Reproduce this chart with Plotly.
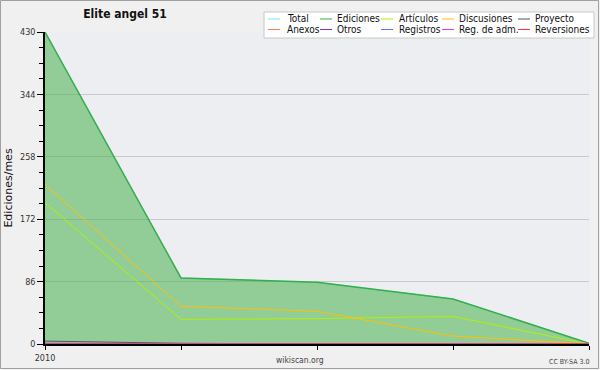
import plotly.graph_objects as go

months = [0, 1, 2, 3, 4]
x_ticklabels = ["2010", "", "", "", ""]
y_ticks = [0, 86, 172, 258, 344, 430]

total = [430, 91, 85, 62, 1]
ediciones = [430, 91, 85, 62, 1]
articulos = [195, 34, 35, 38, 0]
discusiones = [220, 52, 45, 11, 0]
proyecto = [4, 1, 0, 0, 0]
anexos = [0, 0, 0, 0, 0]
otros = [0, 0, 0, 0, 0]
registros = [1, 0, 0, 0, 0]
reg_adm = [0, 0, 0, 0, 0]
reversiones = [0, 0, 0, 0, 0]

series = [
    ("Total", total, "#88e4e4"),
    ("Ediciones", ediciones, "#33b04a"),
    ("Artículos", articulos, "#b4f000"),
    ("Discusiones", discusiones, "#ffc000"),
    ("Proyecto", proyecto, "#555555"),
    ("Anexos", anexos, "#ff8040"),
    ("Otros", otros, "#8030e0"),
    ("Registros", registros, "#6070ff"),
    ("Reg. de adm.", reg_adm, "#e040e0"),
    ("Reversiones", reversiones, "#ff3030"),
]

W, H = 600, 370
L, R, T, B = 45, 11, 32, 26
pw = W - L - R
ph = H - T - B
FONT = "DejaVu Sans Condensed, DejaVu Sans"


def px(x):
    return (x - L) / pw


def py(y):
    return (T + ph - y) / ph


fig = go.Figure()
for name, vals, col in series:
    kw = {}
    if name == "Ediciones":
        kw = dict(fill="tozeroy", fillcolor="rgba(55,172,64,0.5)")
    fig.add_trace(go.Scatter(
        x=months, y=vals, name=name, mode="lines", showlegend=False,
        line=dict(color=col, width=1.5 if name == "Ediciones" else 1),
        **kw))

minor = [t + k * 21.5 for t in y_ticks[:-1] for k in (1, 2, 3)]

fig.update_layout(
    width=W, height=H,
    margin=dict(l=L, r=R, t=T, b=B, autoexpand=False),
    paper_bgcolor="#f0f0f0",
    plot_bgcolor="#eceef1",
    font=dict(family=FONT, size=9, color="#333"),
    title=dict(text="<b>Elite angel 51</b>", x=125 / W, xanchor="center",
               y=1 - 14 / H, yanchor="middle",
               font=dict(family=FONT, size=12, color="#111")),
    showlegend=False,
    xaxis=dict(range=[0, 4], tickvals=months, ticktext=x_ticklabels,
               automargin=False,
               showgrid=False, zeroline=False, showline=True, linecolor="#000",
               linewidth=1.5, ticks="outside", ticklen=4, tickcolor="#000",
               tickfont=dict(family=FONT, size=9, color="#333")),
    yaxis=dict(range=[0, 430], tickvals=y_ticks, automargin=True,
               showgrid=True, gridcolor="#cacaca", zeroline=False,
               showline=True, linecolor="#000", linewidth=1.5,
               ticks="outside", ticklen=6, tickcolor="#000",
               tickfont=dict(family=FONT, size=9, color="#333"),
               minor=dict(tickvals=minor, ticks="outside",
                          ticklen=4, tickcolor="#000", showgrid=False),
               title=dict(text="Ediciones/mes",
                          font=dict(family="DejaVu Sans", size=11, color="#111"),
                          standoff=5)),
)

# legend box (drawn manually to match the compact two-row layout)
fig.add_shape(type="rect", xref="paper", yref="paper",
              x0=px(264), x1=px(594), y0=py(38), y1=py(12),
              fillcolor="#ffffff", line=dict(color="#c8c8c8", width=1),
              layer="above")
col_line_x = [268, 320, 381, 442, 518]
col_text_x = [285, 335, 397, 457, 533]
row_y = [19, 29.5]
for i, (name, vals, col) in enumerate(series):
    c, r = i % 5, i // 5
    fig.add_shape(type="line", xref="paper", yref="paper",
                  x0=px(col_line_x[c]), x1=px(col_line_x[c] + 12),
                  y0=py(row_y[r]), y1=py(row_y[r]),
                  line=dict(color=col, width=1), layer="above")
    fig.add_annotation(text=name, xref="paper", yref="paper",
                       x=px(col_text_x[c]), y=py(row_y[r]),
                       xanchor="left", yanchor="middle", showarrow=False,
                       font=dict(family=FONT, size=10, color="#111"))

fig.add_annotation(text="wikiscan.org", xref="paper", yref="paper",
                   x=px(300), y=py(360),
                   showarrow=False, font=dict(family=FONT, size=8.5, color="#444"),
                   xanchor="center", yanchor="middle")
fig.add_annotation(text="CC BY-SA 3.0", xref="paper", yref="paper",
                   x=px(591), y=py(362),
                   showarrow=False, font=dict(family=FONT, size=7, color="#444"),
                   xanchor="right", yanchor="middle")

# outer border of the figure
fig.add_shape(type="rect", xref="paper", yref="paper",
              x0=px(0.5), x1=px(W - 1.5),
              y0=py(H - 1.5), y1=py(0.5),
              line=dict(color="#a0a0a0", width=1), layer="below")

fig.write_html("out.html",
               config={"displayModeBar": False},
               post_script="document.body.style.margin='0';"
                           "document.body.style.overflow='hidden';")
